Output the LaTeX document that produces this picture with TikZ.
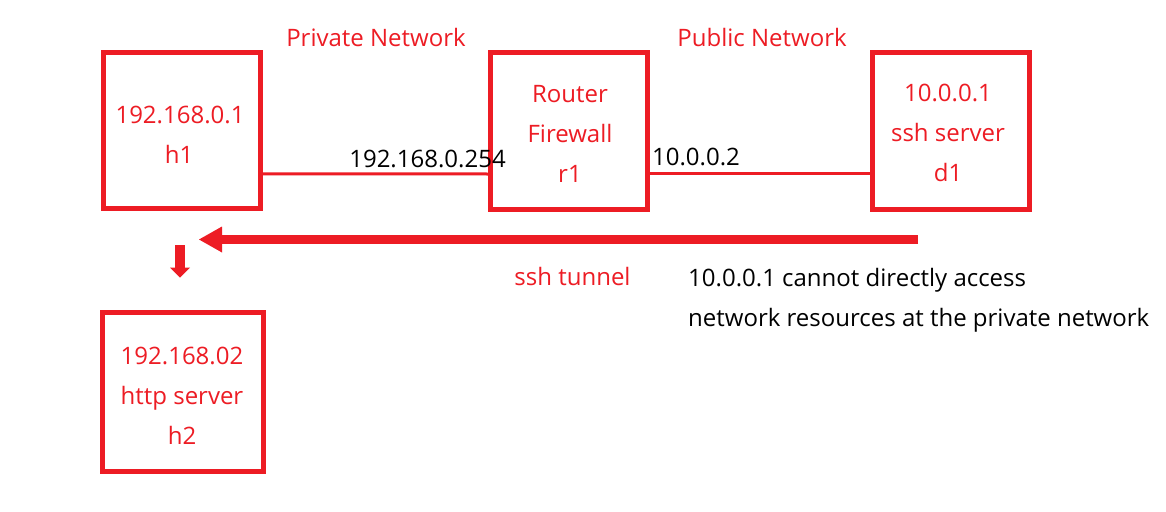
\documentclass[tikz,border=0pt]{standalone}
\usepackage{fontspec}
\setmainfont{Open Sans}
\usetikzlibrary{arrows.meta}
\definecolor{pred}{RGB}{237,28,36}
\tikzset{
  box/.style={draw=pred, line width=5pt, minimum width=157pt, minimum height=156pt, inner sep=0pt},
  lbl/.style={text=pred, font=\fontsize{24pt}{28pt}\selectfont, inner sep=0pt, anchor=base},
  blk/.style={text=black, font=\fontsize{24pt}{28pt}\selectfont, inner sep=0pt, anchor=base},
  link/.style={draw=pred, line width=3pt},
  bigarrow/.style={draw=pred, line width=9pt, -{Triangle[length=23pt,width=26pt,line width=0pt]}},
  smallarrow/.style={draw=pred, line width=10pt, -{Triangle[length=10pt,width=20pt,line width=0pt]}}
}
\begin{document}
\begin{tikzpicture}[x=1pt,y=-1pt]
\useasboundingbox[fill=white] (0,0) rectangle (1166,511);
% boxes
\node[box] (h1) at (181.75,130.75) {};
\node[box] (r1) at (569.3,131) {};
\node[box] (d1) at (951.1,131) {};
\node[box, minimum width=161pt, minimum height=159.5pt] (h2) at (183,391.75) {};
% links
\draw[link] ([yshift=-43pt]h1.east) -- ([yshift=-43pt]r1.west);
\draw[link] ([yshift=-42.5pt]r1.east) -- ([yshift=-42.5pt]d1.west);
% arrows
\coordinate (tunS) at (918,239.5);
\coordinate (tunE) at (199,239.5);
\draw[bigarrow] (tunS) -- (tunE);
\coordinate (dnS) at (180,245);
\coordinate (dnE) at (180,277.5);
\draw[smallarrow] (dnS) -- (dnE);
% network labels
\node[lbl] (priv) at (376,47) {Private Network};
\node[lbl] (pub) at (762,47) {Public Network};
% h1
\node[lbl] (h1a) at (180,123) {192.168.0.1};
\node[lbl] (h1b) at (179,163) {h1};
% r1
\node[lbl] (r1a) at (570,102) {Router};
\node[lbl] (r1b) at (570,142) {Firewall};
\node[lbl] (r1c) at (570,182) {r1};
% d1
\node[lbl] (d1a) at (948,101) {10.0.0.1};
\node[lbl] (d1b) at (948,141) {ssh server};
\node[lbl] (d1c) at (948,181) {d1};
% h2
\node[lbl] (h2a) at (182,364) {192.168.02};
\node[lbl] (h2b) at (182,404) {http server};
\node[lbl] (h2c) at (182,444) {h2};
% interface labels
\node[blk] (ip1) at (427.5,167) {192.168.0.254};
\node[blk] (ip2) at (696,165) {10.0.0.2};
% tunnel
\node[lbl] (tun) at (572.5,285) {ssh tunnel};
\node[blk, anchor=base west] (note1) at (688,286) {10.0.0.1 cannot directly access};
\node[blk, anchor=base west] (note2) at (688,326.5) {network resources at the private network};
\end{tikzpicture}
\end{document}
